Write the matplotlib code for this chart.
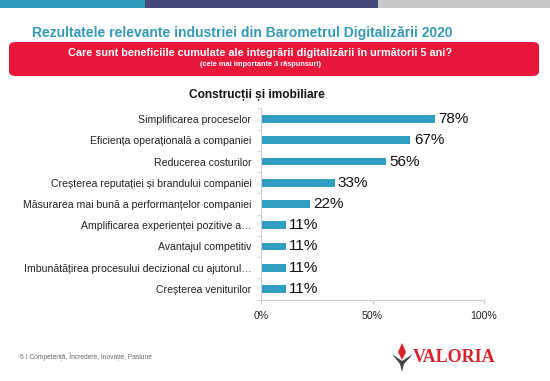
import matplotlib.pyplot as plt
from matplotlib.patches import Rectangle, FancyBboxPatch, Polygon

plt.rcParams['font.family'] = ['Liberation Sans', 'DejaVu Sans']

# date
categories = [
    'Simplificarea proceselor',
    'Eficiența operațională a companiei',
    'Reducerea costurilor',
    'Creșterea reputației și brandului companiei',
    'Măsurarea mai bună a performanțelor companiei',
    'Amplificarea experienței pozitive a…',
    'Avantajul competitiv',
    'Imbunătățirea procesului decizional cu ajutorul…',
    'Creșterea veniturilor',
]
values = [78, 67, 56, 33, 22, 11, 11, 11, 11]
xticks = [0, 50, 100]
xtick_labels = ['0%', '50%', '100%']

teal = '#2E9FC0'
red = '#E8173A'

fig = plt.figure(figsize=(5.5, 3.81), dpi=100)

# banda de sus
fig.add_artist(Rectangle((0, 0.979), 145 / 550, 0.021, transform=fig.transFigure,
                         color='#2A9DBB', lw=0))
fig.add_artist(Rectangle((145 / 550, 0.979), 233 / 550, 0.021, transform=fig.transFigure,
                         color='#434A7A', lw=0))
fig.add_artist(Rectangle((378 / 550, 0.979), 172 / 550, 0.021, transform=fig.transFigure,
                         color='#C8C8CA', lw=0))

fig.text(242 / 550, 1 - 33 / 381, 'Rezultatele relevante industriei din Barometrul Digitalizării 2020',
         ha='center', va='center', fontsize=10, fontweight='bold', color='#3399BB')

# caseta rosie
fig.add_artist(FancyBboxPatch((9 / 550, 1 - 76 / 381), 530 / 550, 34 / 381,
                              boxstyle='round,pad=0,rounding_size=0.012',
                              transform=fig.transFigure, color=red, lw=0))
fig.text(260 / 550, 1 - 52.5 / 381,
         'Care sunt beneficiile cumulate ale integrării digitalizării în următorii 5 ani?',
         ha='center', va='center', fontsize=7.8, fontweight='bold', color='white')
fig.text(260 / 550, 1 - 64 / 381, '(cele mai importante 3 răspunsuri)',
         ha='center', va='center', fontsize=5.3, fontweight='bold', color='white')

fig.text(257 / 550, 1 - 95 / 381, 'Construcții și imobiliare',
         ha='center', va='center', fontsize=8.6, fontweight='bold', color='#111111')

ax = fig.add_axes([261 / 550, 1 - 299.6 / 381, 223 / 550, 191.2 / 381])
y = list(range(len(categories)))
ax.barh(y, values, height=0.36, color=teal)
for yi, v in zip(y, values):
    ax.text(v + 1.5, yi, f'{v}%', va='center', ha='left', fontsize=11, color='#111111')

ax.set_xlim(0, 100)
ax.set_ylim(len(categories) - 0.5, -0.5)
ax.set_yticks(y)
ax.set_yticklabels(categories, fontsize=7.6, color='#222222')
ax.set_xticks(xticks)
ax.set_xticklabels(xtick_labels, fontsize=7.6, color='#222222')
ax.set_yticks([i + 0.5 for i in range(-1, len(categories))], minor=True)
ax.tick_params(axis='y', which='major', length=0, pad=7)
ax.tick_params(axis='y', which='minor', length=3, color='#C8CCD4')
ax.tick_params(axis='x', length=3, color='#C8CCD4', pad=5)
for s in ['top', 'right']:
    ax.spines[s].set_visible(False)
for s in ['left', 'bottom']:
    ax.spines[s].set_color('#C8CCD4')
    ax.spines[s].set_linewidth(0.8)

# subsol
fig.text(20 / 550, 1 - 357 / 381, '6 I Competență, Încredere, Inovație, Pasiune',
         ha='left', va='center', fontsize=4.8, color='#666666')

# sigla
fig.add_artist(Polygon([(402 / 550, 1 - 343 / 381), (406 / 550, 1 - 352 / 381),
                        (402 / 550, 1 - 360 / 381), (398 / 550, 1 - 352 / 381)],
                       closed=True, transform=fig.transFigure, color='#D8232A', lw=0))
fig.add_artist(Polygon([(392 / 550, 1 - 354 / 381), (402 / 550, 1 - 361 / 381),
                        (413 / 550, 1 - 354 / 381), (404 / 550, 1 - 364 / 381),
                        (402 / 550, 1 - 372 / 381), (400 / 550, 1 - 364 / 381)],
                       closed=True, transform=fig.transFigure, color='#444444', lw=0))
fig.text(413 / 550, 1 - 357 / 381, 'VALORIA', ha='left', va='center', fontsize=13,
         fontweight='bold', color='#D8232A', family=['Liberation Serif', 'DejaVu Serif'])

fig.savefig('out.png', dpi=100)
